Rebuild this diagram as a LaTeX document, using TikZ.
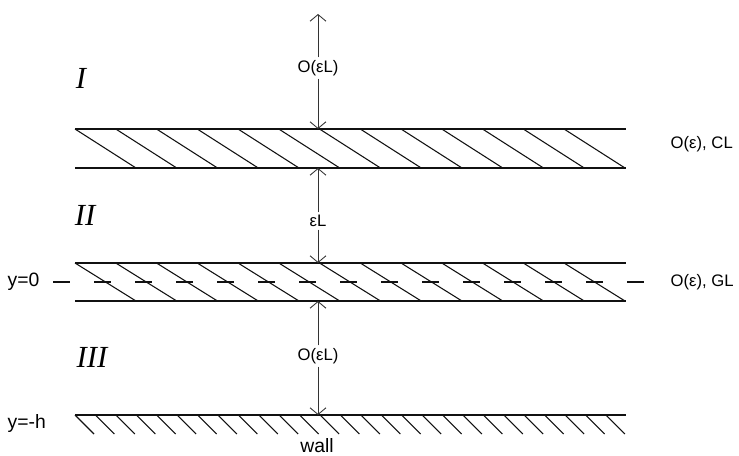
\documentclass[tikz,border=0pt]{standalone}
\usepackage{fontspec}
\setmainfont{Liberation Sans}
\newfontfamily\zonefont{Liberation Serif}
\usetikzlibrary{arrows.meta,positioning}
\definecolor{ink}{HTML}{111111}
\definecolor{gray70}{HTML}{333333}

\tikzset{
  layer/.style={ink,line width=1.1pt},
  hatch/.style={ink,line width=0.8pt},
  dimline/.style={gray70,line width=0.65pt,-{Straight Barb[length=5pt,width=12pt]}},
  dimlbl/.style={font=\fontsize{12.5}{14}\selectfont,inner sep=2pt},
  sidelbl/.style={font=\fontsize{12.5}{14}\selectfont},
  axislbl/.style={font=\fontsize{14.5}{16}\selectfont},
  zone/.style={font=\zonefont\itshape\fontsize{23}{26}\selectfont}
}

\begin{document}
\begin{tikzpicture}[x=0.75pt,y=-0.75pt]
\useasboundingbox (0,0) rectangle (739,456);

% critical layer
\draw[layer] (75,129) -- (626,129);
\draw[layer] (75,168) -- (626,168);
\foreach \k in {0,...,12}{
  \draw[hatch] (75+40.75*\k,129) -- ++(61,39);
}

% generation layer, centred on y=0
\draw[layer] (75,263) -- (626,263);
\draw[layer] (75,301) -- (626,301);
\foreach \k in {0,...,12}{
  \draw[hatch] (75+40.75*\k,263) -- ++(61,38);
}
\draw[hatch,dash pattern=on 12.5pt off 18.25pt] (53,282) -- (647,282);

% wall
\draw[layer] (75,415) -- (626,415);
\foreach \k in {0,...,26}{
  \draw[hatch] (75+20.42*\k,415) -- ++(19,19);
}

% zones
\node[zone] (zoneI) at (81,78) {I};
\node[zone] (zoneII) at (85,215) {II};
\node[zone] (zoneIII) at (92,357) {III};

% thickness markers
\coordinate (outer) at (318,14);
\coordinate (clTop) at (318,129);
\coordinate (clBot) at (318,168);
\coordinate (glTop) at (318,263);
\coordinate (glBot) at (318,301);
\coordinate (wallPt) at (318,415);

\node[dimlbl] (dimI) at (318,68) {O(εL)};
\node[dimlbl] (dimII) at (318,221) {εL};
\node[dimlbl] (dimIII) at (318,356) {O(εL)};

\draw[dimline] (dimI) -- (outer);
\draw[dimline] (dimI) -- (clTop);
\draw[dimline] (dimII) -- (clBot);
\draw[dimline] (dimII) -- (glTop);
\draw[dimline] (dimIII) -- (glBot);
\draw[dimline] (dimIII) -- (wallPt);

% side labels
\node[sidelbl,anchor=west] (clLbl) at (666,144) {O(ε), CL};
\node[sidelbl,anchor=west] (glLbl) at (666,282) {O(ε), GL};
\node[axislbl,anchor=west] (yZero) at (3,282) {y=0};
\node[axislbl,anchor=west] (yWall) at (3,423) {y=-h};
\node[axislbl] (wallLbl) at (317,446) {wall};

\end{tikzpicture}
\end{document}
